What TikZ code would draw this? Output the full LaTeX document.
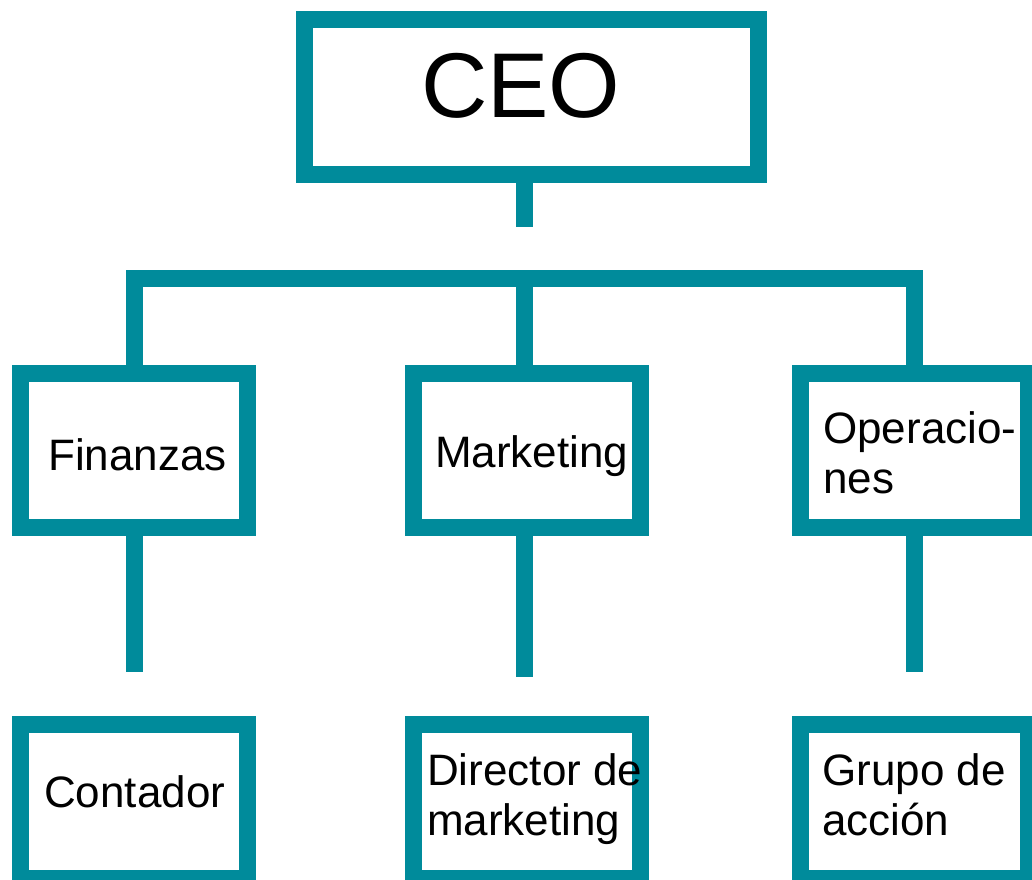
\documentclass[tikz,border=0pt]{standalone}
\usepackage{fontspec}
\setmainfont{Liberation Sans}
\definecolor{teal}{RGB}{0,139,155}
\begin{document}
\begin{tikzpicture}[x=1pt,y=-1pt,
  box/.style={draw=teal, line width=17pt, line join=miter, inner sep=0pt, outer sep=0pt, rectangle},
  conn/.style={draw=teal, line width=17pt, line join=miter},
  lbl/.style={anchor=base west, inner sep=0pt, font=\fontsize{44}{50}\selectfont, align=left},
  big/.style={anchor=base west, inner sep=0pt, font=\fontsize{92}{100}\selectfont}]
\useasboundingbox (0,0) rectangle (1032,879);
\begin{scope}
\clip (0,0) rectangle (1032,879);
% boxes
\node[box, minimum width=454.5pt, minimum height=154.5pt] (ceo) at (531.25,96.75) {};
\node[box, minimum width=227.5pt, minimum height=154pt] (fin) at (133.75,450.5) {};
\node[box, minimum width=227pt, minimum height=154pt] (mkt) at (527,450.5) {};
\node[box, minimum width=228pt, minimum height=154pt] (ope) at (914,450.5) {};
\node[box, minimum width=227.5pt, minimum height=154.5pt] (con) at (133.75,801.25) {};
\node[box, minimum width=227pt, minimum height=154.5pt] (dir) at (527,801.25) {};
\node[box, minimum width=228pt, minimum height=154.5pt] (gru) at (914,801.25) {};
% coordinates
\coordinate (stemend) at (524,227);
\coordinate (bar) at (524,278.5);
\coordinate (finend) at (134,672);
\coordinate (mktend) at (524,677);
\coordinate (opeend) at (914,672);
% connectors
\draw[conn] (stemend |- ceo.south) -- (stemend);
\draw[conn] (finend |- fin.north) |- (bar) -| (opeend |- ope.north);
\draw[conn] (bar) -- (bar |- mkt.north);
\draw[conn] (finend |- fin.south) -- (finend);
\draw[conn] (mktend |- mkt.south) -- (mktend);
\draw[conn] (opeend |- ope.south) -- (opeend);
\end{scope}
% labels
\node[big] (tceo) at (421,117) {CEO};
\node[lbl] (tfin) at (48,470) {Finanzas};
\node[lbl] (tmkt) at (435,467) {Marketing};
\node[lbl] (tope) at (823,493) {Operacio-\\nes};
\node[lbl] (tcon) at (44,807) {Contador};
\node[lbl] (tdir) at (427,835) {Director de\\marketing};
\node[lbl] (tgru) at (822,835) {Grupo de\\acción};
\end{tikzpicture}
\end{document}
